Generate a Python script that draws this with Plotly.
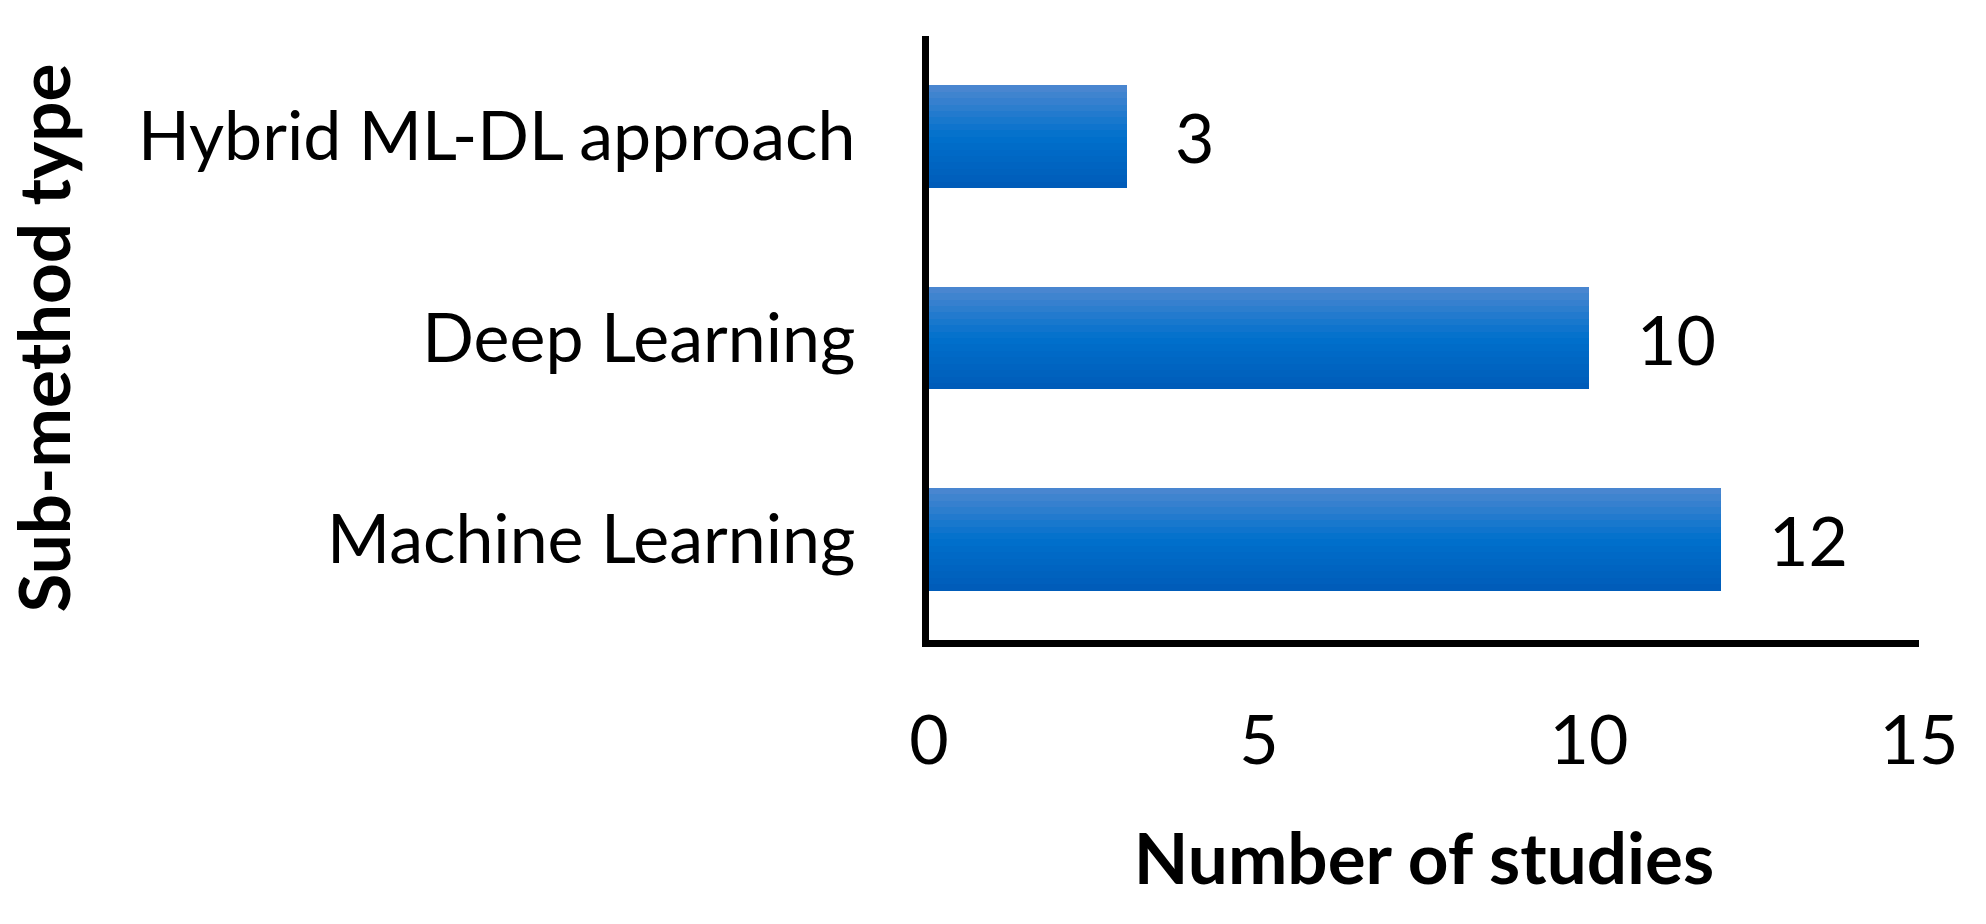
import plotly.graph_objects as go

categories = ["Machine Learning", "Deep Learning", "Hybrid ML-DL approach"]
values = [12, 10, 3]
x_ticks = [0, 5, 10, 15]
x_title = "Number of studies"
y_title = "Sub-method type"

FONT = "Lato"
SIZE = 68
TSIZE = 71

# vertical gradient of the bars (bottom -> top)
grad_stops = [
    (0.0, (0, 91, 184)),
    (0.5, (0, 112, 204)),
    (1.0, (78, 136, 208)),
]

def grad_color(t):
    for (t0, c0), (t1, c1) in zip(grad_stops[:-1], grad_stops[1:]):
        if t0 <= t <= t1:
            f = (t - t0) / (t1 - t0)
            c = [round(a + (b - a) * f) for a, b in zip(c0, c1)]
            return f"rgb({c[0]},{c[1]},{c[2]})"
    c = grad_stops[-1][1]
    return f"rgb({c[0]},{c[1]},{c[2]})"

N = 16
bar_w = 0.51
fig = go.Figure()
for i in range(N):
    t = (i + 0.5) / N
    fig.add_trace(go.Bar(
        x=values, y=categories, orientation="h",
        width=bar_w / N, offset=-bar_w / 2 + i * bar_w / N,
        marker=dict(color=grad_color(t), line=dict(width=0)),
        hoverinfo="skip" if i else None, showlegend=False,
    ))

for v, c in zip(values, categories):
    fig.add_annotation(x=v, y=c, text=str(v), showarrow=False,
                       xanchor="left", xshift=46,
                       font=dict(family=FONT, size=SIZE, color="black"))

fig.update_layout(
    width=1986, height=924,
    margin=dict(l=929, r=67, t=36, b=284),
    paper_bgcolor="white", plot_bgcolor="white",
    barmode="overlay", bargap=0,
    font=dict(family=FONT, size=SIZE, color="black"),
    xaxis=dict(range=[0, 15], tickvals=x_ticks, showgrid=False, zeroline=False,
               showline=True, linecolor="black", linewidth=7,
               ticks="", ticklabelstandoff=35,
               title=dict(text=f"<b>{x_title}</b>", standoff=60,
                          font=dict(family=FONT, size=TSIZE))),
    yaxis=dict(categoryorder="array", categoryarray=categories,
               showgrid=False, zeroline=False,
               showline=True, linecolor="black", linewidth=7,
               ticks="", ticklabelstandoff=53,
               title=dict(text=f"<b>{y_title}</b>", standoff=59,
                          font=dict(family=FONT, size=TSIZE))),
)

fig.write_html("out.html", config={"displayModeBar": False},
               post_script="document.body.style.margin='0';")
